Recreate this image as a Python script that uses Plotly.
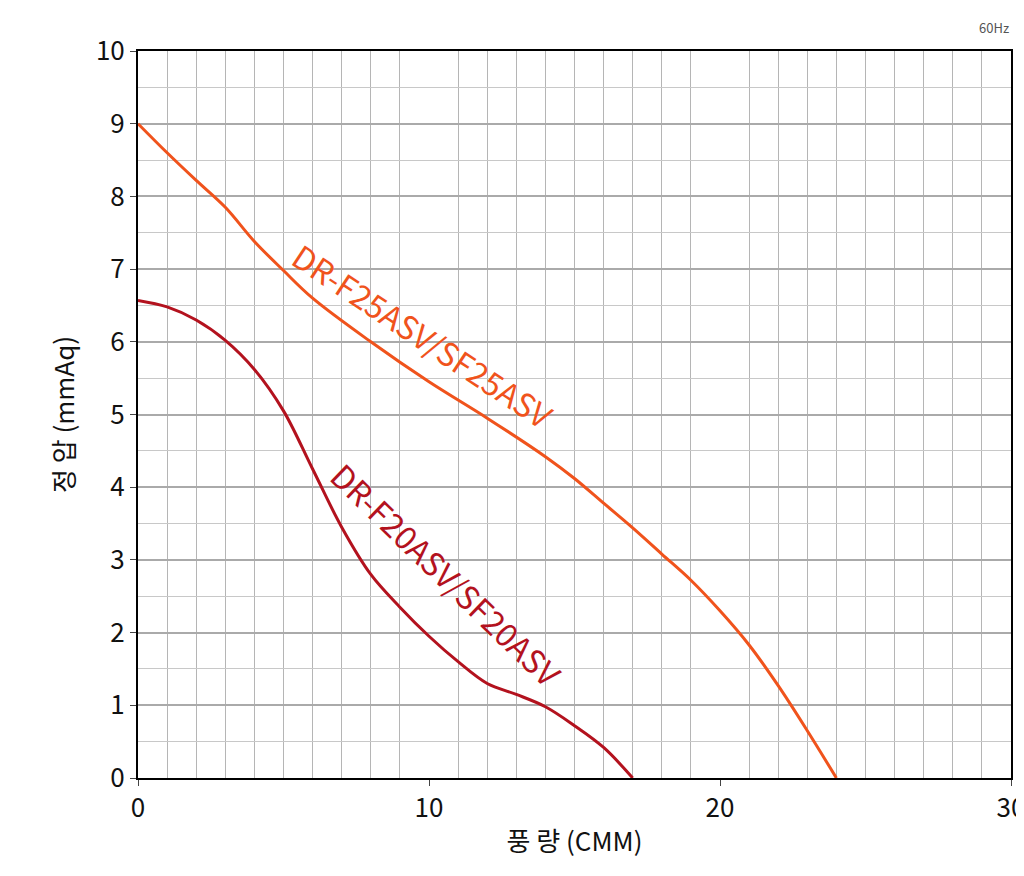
import plotly.graph_objects as go

x25 = [0, 1, 2, 3, 4, 5, 6, 8, 10, 12, 14, 15, 16, 17, 18, 19, 20, 21, 22, 23, 24]
y25 = [9.0, 8.6, 8.22, 7.85, 7.38, 6.98, 6.6, 6.0, 5.45, 4.95, 4.42, 4.12, 3.78, 3.44, 3.08, 2.72, 2.3, 1.83, 1.27, 0.65, 0.0]
x20 = [0, 1, 2, 3, 4, 5, 6, 7, 8, 9, 10, 11, 12, 13, 14, 15, 16, 17]
y20 = [6.57, 6.48, 6.3, 6.02, 5.62, 5.05, 4.25, 3.45, 2.8, 2.35, 1.95, 1.6, 1.3, 1.15, 0.98, 0.72, 0.42, 0.0]
c25 = "#f0531c"
c20 = "#b3121e"
font = "Noto Sans CJK KR"

fig = go.Figure()
fig.add_trace(go.Scatter(x=x25, y=y25, mode="lines", line=dict(color=c25, width=3, shape="spline", smoothing=1.0)))
fig.add_trace(go.Scatter(x=x20, y=y20, mode="lines", line=dict(color=c20, width=3, shape="spline", smoothing=1.0)))
fig.add_annotation(x=9.8, y=6.1, text="DR-F25ASV/SF25ASV", showarrow=False, textangle=33.5,
                   font=dict(family=font, size=32, color=c25))
fig.add_annotation(x=10.6, y=2.8, text="DR-F20ASV/SF20ASV", showarrow=False, textangle=44,
                   font=dict(family=font, size=32, color=c20))
fig.add_annotation(x=1, y=1, xref="paper", yref="paper", xanchor="right", yanchor="bottom", yshift=12,
                   text="60Hz", showarrow=False, font=dict(family=font, size=13, color="#555"))
fig.update_layout(
    width=1024, height=876, showlegend=False, plot_bgcolor="white", paper_bgcolor="white",
    margin=dict(l=130, r=21, t=43, b=106, autoexpand=False), font=dict(family=font, size=26, color="#111"),
    xaxis=dict(range=[0, 30], dtick=10, showgrid=False, automargin=False,
               minor=dict(dtick=1, showgrid=True, gridcolor="#b5b5b5", gridwidth=1.2),
               showline=True, linecolor="black", linewidth=2, mirror=True, ticks="outside", ticklen=6,
               title=dict(text="풍 량 (CMM)", font=dict(size=26), standoff=10), zeroline=False),
    yaxis=dict(range=[0, 10], dtick=1, showgrid=True, gridcolor="#aaaaaa", gridwidth=1.5, automargin=False,
               minor=dict(dtick=0.5, showgrid=True, gridcolor="#c8c8c8", gridwidth=1),
               showline=True, linecolor="black", linewidth=2, mirror=True, ticks="outside", ticklen=6,
               title=dict(text="정 압 (mmAq)", font=dict(size=26), standoff=14), zeroline=False),
)
fig.write_html("out.html")
